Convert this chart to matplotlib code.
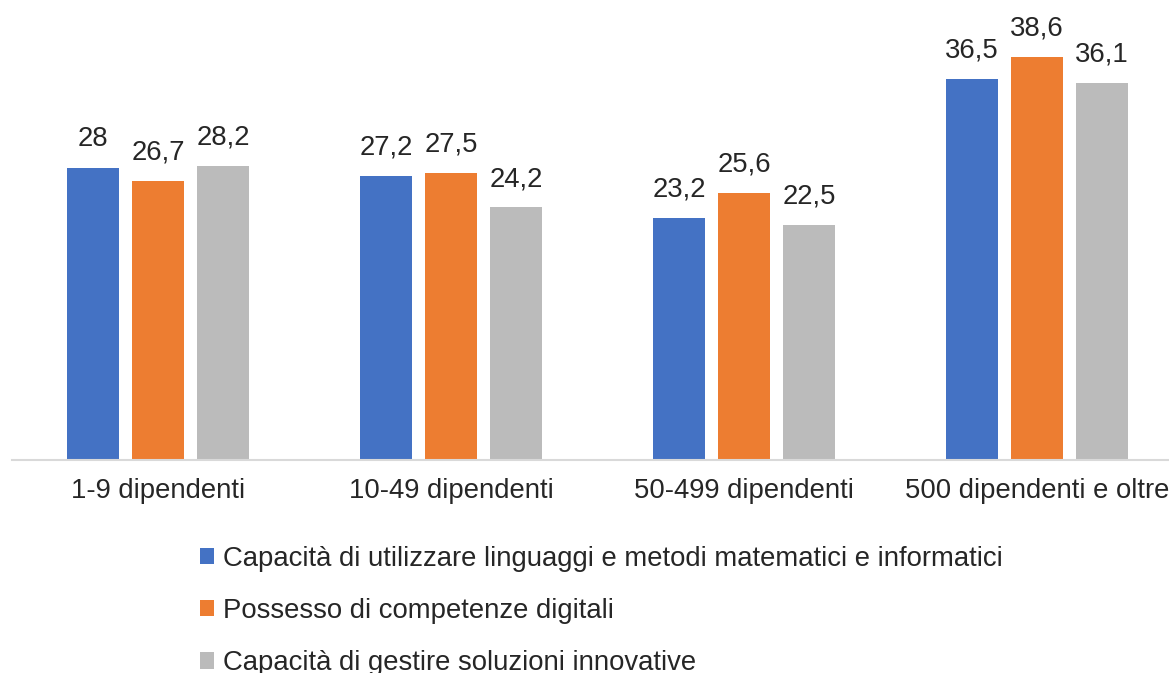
import numpy as np
import matplotlib.pyplot as plt
from matplotlib.patches import Patch

plt.rcParams['font.family'] = ['Liberation Sans', 'DejaVu Sans']

categories = ['1-9 dipendenti', '10-49 dipendenti', '50-499 dipendenti', '500 dipendenti e oltre']
series_names = ['Capacità di utilizzare linguaggi e metodi matematici e informatici',
                'Possesso di competenze digitali',
                'Capacità di gestire soluzioni innovative']
matematici = [28, 27.2, 23.2, 36.5]
digitali = [26.7, 27.5, 25.6, 38.6]
innovative = [28.2, 24.2, 22.5, 36.1]

colors = ['#4472C4', '#ED7D31', '#BBBBBB']
text_col = '#262626'

fig = plt.figure(figsize=(11.69, 6.73), dpi=100)
ax = fig.add_axes([11.5 / 1169, 1 - 460 / 673, 1172 / 1169, 417.6 / 673])

x = np.arange(len(categories))
w = 0.177
step = 0.222
for i, (vals, c) in enumerate(zip([matematici, digitali, innovative], colors)):
    bars = ax.bar(x + (i - 1) * step, vals, width=w, color=c)
    labels = [('%g' % v).replace('.', ',') for v in vals]
    ax.bar_label(bars, labels=labels, padding=11, fontsize=19.8, color=text_col)

ax.set_xlim(-0.5, len(categories) - 0.5)
ax.set_ylim(0, 40)
ax.set_xticks(x)
ax.set_xticklabels(categories, fontsize=19.8, color=text_col)
ax.tick_params(axis='x', length=0, pad=13)
ax.set_yticks([])
for s in ['top', 'right', 'left']:
    ax.spines[s].set_visible(False)
ax.spines['bottom'].set_color('#D9D9D9')
ax.spines['bottom'].set_linewidth(1.5)

# legenda sotto il grafico, una voce per riga
handles = [Patch(facecolor=c, edgecolor='none') for c in colors]
leg = fig.legend(handles, series_names, loc='upper left', bbox_to_anchor=(189 / 1169, 1 - 535 / 673),
                 frameon=False, fontsize=19.8, handlelength=0.52, handleheight=0.52,
                 handletextpad=0.3, labelspacing=0.95, borderaxespad=0)
for t in leg.get_texts():
    t.set_color(text_col)

fig.savefig('out.png', dpi=100)
